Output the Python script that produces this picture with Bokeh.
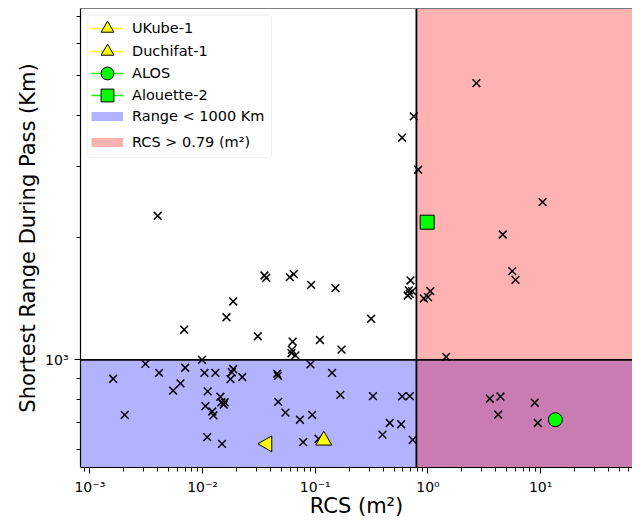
from bokeh.plotting import figure
from bokeh.models import Range1d, FixedTicker, BoxAnnotation, Span, Legend, LegendItem
from bokeh.embed import file_html
from bokeh.resources import INLINE

# ---- data ----
rcs = [
    0.0040, 0.0187, 0.0163, 0.00687, 0.0309, 0.00988,
    0.0354, 0.0367, 0.0594, 0.0645, 0.0920, 0.151, 0.313,
    0.0630, 0.0621, 0.0615, 0.0667, 0.110, 0.171,
    2.69, 0.748, 0.590, 0.819, 10.4, 4.61, 5.59, 5.98,
    0.700, 0.676, 0.690, 0.724, 0.662, 1.05, 0.918, 1.00, 1.45,
    0.00161, 0.00204, 0.00311, 0.00412, 0.00701, 0.00637, 0.00548,
    0.0104, 0.0130, 0.0187, 0.0182, 0.0177, 0.0225,
    0.0111, 0.0106, 0.0122, 0.0125, 0.0144, 0.0147, 0.0154, 0.0157,
    0.0110, 0.0149,
    0.0459, 0.0467, 0.0907, 0.141, 0.0469, 0.0544, 0.0731, 0.0939, 0.0781, 0.107,
    0.167, 0.325, 0.590, 0.690, 0.458, 0.578, 0.395, 0.733,
    3.54, 4.40, 4.20, 8.86, 9.43,
]
shortest_range = [
    2263, 1392, 1273, 1186, 1143, 1000,
    1613, 1592, 1598, 1625, 1530, 1501, 1262,
    1108, 1058, 1038, 1025, 1119, 1059,
    4800, 3976, 3523, 2938, 2445, 2035, 1653, 1574,
    1568, 1482, 1454, 1476, 1440, 1476, 1416, 1427, 1017,
    898, 732, 977, 929, 956, 875, 840,
    929, 929, 949, 932, 896, 907,
    836, 769, 746, 730, 811, 786, 776, 786,
    645, 621,
    924, 913, 974, 929, 788, 741, 712, 732, 627, 639,
    820, 814, 813, 814, 699, 694, 654, 635,
    802, 812, 733, 784, 699,
]
ukube_rcs, ukube_range = [0.119], [633]
duchifat_rcs, duchifat_range = [0.0374], [621]
alos_rcs, alos_range = [13.5], [712]
alouette_rcs, alouette_range = [0.984], [2182]

range_limit = 1000
rcs_limit = 0.79

x_major = [0.001, 0.01, 0.1, 1, 10]
x_labels = ["10⁻³", "10⁻²", "10⁻¹", "10⁰", "10¹"]
y_major = [1000]
y_labels = ["10³"]

x_minor = [k * d for d in [0.0001, 0.001, 0.01, 0.1, 1, 10] for k in range(2, 10)]
y_minor = [k * d for d in [100, 1000] for k in range(2, 10)]

FONT = "DejaVu Sans"
X_START, X_END = 0.000826, 65.3
Y_START, Y_END = 543, 7330

p = figure(width=632, height=521, x_axis_type="log", y_axis_type="log",
           x_range=Range1d(X_START, X_END), y_range=Range1d(Y_START, Y_END),
           output_backend="svg", toolbar_location=None,
           min_border_left=80, min_border_right=0, min_border_top=8,
           min_border_bottom=54)
p.xgrid.visible = False
p.ygrid.visible = False
p.outline_line_color = None
p.background_fill_color = "white"
p.border_fill_color = "white"

# shaded regions
p.add_layout(BoxAnnotation(top=range_limit, fill_color="blue", fill_alpha=0.3,
                           line_color=None, level="underlay"))
p.add_layout(BoxAnnotation(left=rcs_limit, fill_color="red", fill_alpha=0.3,
                           line_color=None, level="underlay"))
p.add_layout(Span(location=range_limit, dimension="width", line_color="black",
                  line_width=1.8, level="underlay"))
p.add_layout(Span(location=rcs_limit, dimension="height", line_color="black",
                  line_width=1.8, level="underlay"))
# top spine
p.add_layout(Span(location=Y_END, dimension="width", line_color="black", line_width=1.2))

# debris points
p.scatter(rcs, shortest_range, marker="x", size=11, line_color="black", line_width=1.5)

# satellites (a one-point line gives the legend its line segment)
l_uk = p.line(ukube_rcs, ukube_range, line_color="yellow", line_width=1.5)
r_uk = p.scatter(ukube_rcs, ukube_range, marker="triangle", size=16,
                 fill_color="yellow", line_color="black", line_width=1)
l_du = p.line(duchifat_rcs, duchifat_range, line_color="yellow", line_width=1.5)
r_du = p.scatter(duchifat_rcs, duchifat_range, marker="triangle", size=16, angle=1.5708,
                 fill_color="yellow", line_color="black", line_width=1)
l_al = p.line(alos_rcs, alos_range, line_color="lime", line_width=1.5)
r_al = p.scatter(alos_rcs, alos_range, marker="circle", size=14,
                 fill_color="lime", line_color="black", line_width=1)
l_ao = p.line(alouette_rcs, alouette_range, line_color="lime", line_width=1.5)
r_ao = p.scatter(alouette_rcs, alouette_range, marker="square", size=14,
                 fill_color="lime", line_color="black", line_width=1)
l_rng = p.line([rcs_limit], [range_limit], line_color="blue", line_alpha=0.3,
               line_width=9, line_cap="butt")
l_rcs = p.line([rcs_limit], [range_limit], line_color="red", line_alpha=0.3,
               line_width=9, line_cap="butt")

# legend frame
p.add_layout(BoxAnnotation(left=0.000952, right=0.0409, bottom=3150, top=7047,
                           fill_color="white", fill_alpha=0.8,
                           line_color="#cccccc", line_width=1, border_radius=3))

entries = [
    ("UKube-1", [l_uk, r_uk], 421),
    ("Duchifat-1", [l_du, r_du], 398),
    ("ALOS", [l_al, r_al], 376),
    ("Alouette-2", [l_ao, r_ao], 354),
    ("Range < 1000 Km", [l_rng], 333),
    ("RCS > 0.79 (m²)", [l_rcs], 307),
]
for label, rends, ypos in entries:
    lg = Legend(items=[LegendItem(label=label, renderers=rends)],
                location=(11, ypos), orientation="vertical",
                glyph_width=32, glyph_height=36, spacing=0, padding=0, margin=0,
                label_standoff=9, label_text_font=FONT, label_text_font_size="14.5px",
                label_text_color="black", background_fill_alpha=0, border_line_alpha=0)
    p.add_layout(lg)

# axes
p.xaxis.ticker = FixedTicker(ticks=x_major, minor_ticks=x_minor)
p.yaxis.ticker = FixedTicker(ticks=y_major, minor_ticks=y_minor)
p.xaxis.major_label_overrides = dict(zip(x_major, x_labels))
p.yaxis.major_label_overrides = dict(zip(y_major, y_labels))
p.xaxis.axis_label = "RCS (m²)"
p.yaxis.axis_label = "Shortest Range During Pass (Km)"
for ax in (p.xaxis[0], p.yaxis[0]):
    ax.axis_label_text_font = FONT
    ax.axis_label_text_font_size = "21px"
    ax.axis_label_text_font_style = "normal"
    ax.axis_label_text_color = "black"
    ax.major_label_text_font = FONT
    ax.major_label_text_font_size = "14px"
    ax.major_label_text_color = "black"
    ax.major_tick_out = 6
    ax.major_tick_in = 0
    ax.minor_tick_out = 4
    ax.minor_tick_in = 0
    ax.major_tick_line_color = "black"
    ax.minor_tick_line_color = "black"
    ax.axis_line_color = "black"
    ax.axis_line_width = 1.2
p.xaxis.major_label_standoff = 5
p.xaxis.axis_label_standoff = -4
p.yaxis.major_label_standoff = 6
p.yaxis.axis_label_standoff = 2

open("out.html", "w").write(file_html(p, INLINE))
